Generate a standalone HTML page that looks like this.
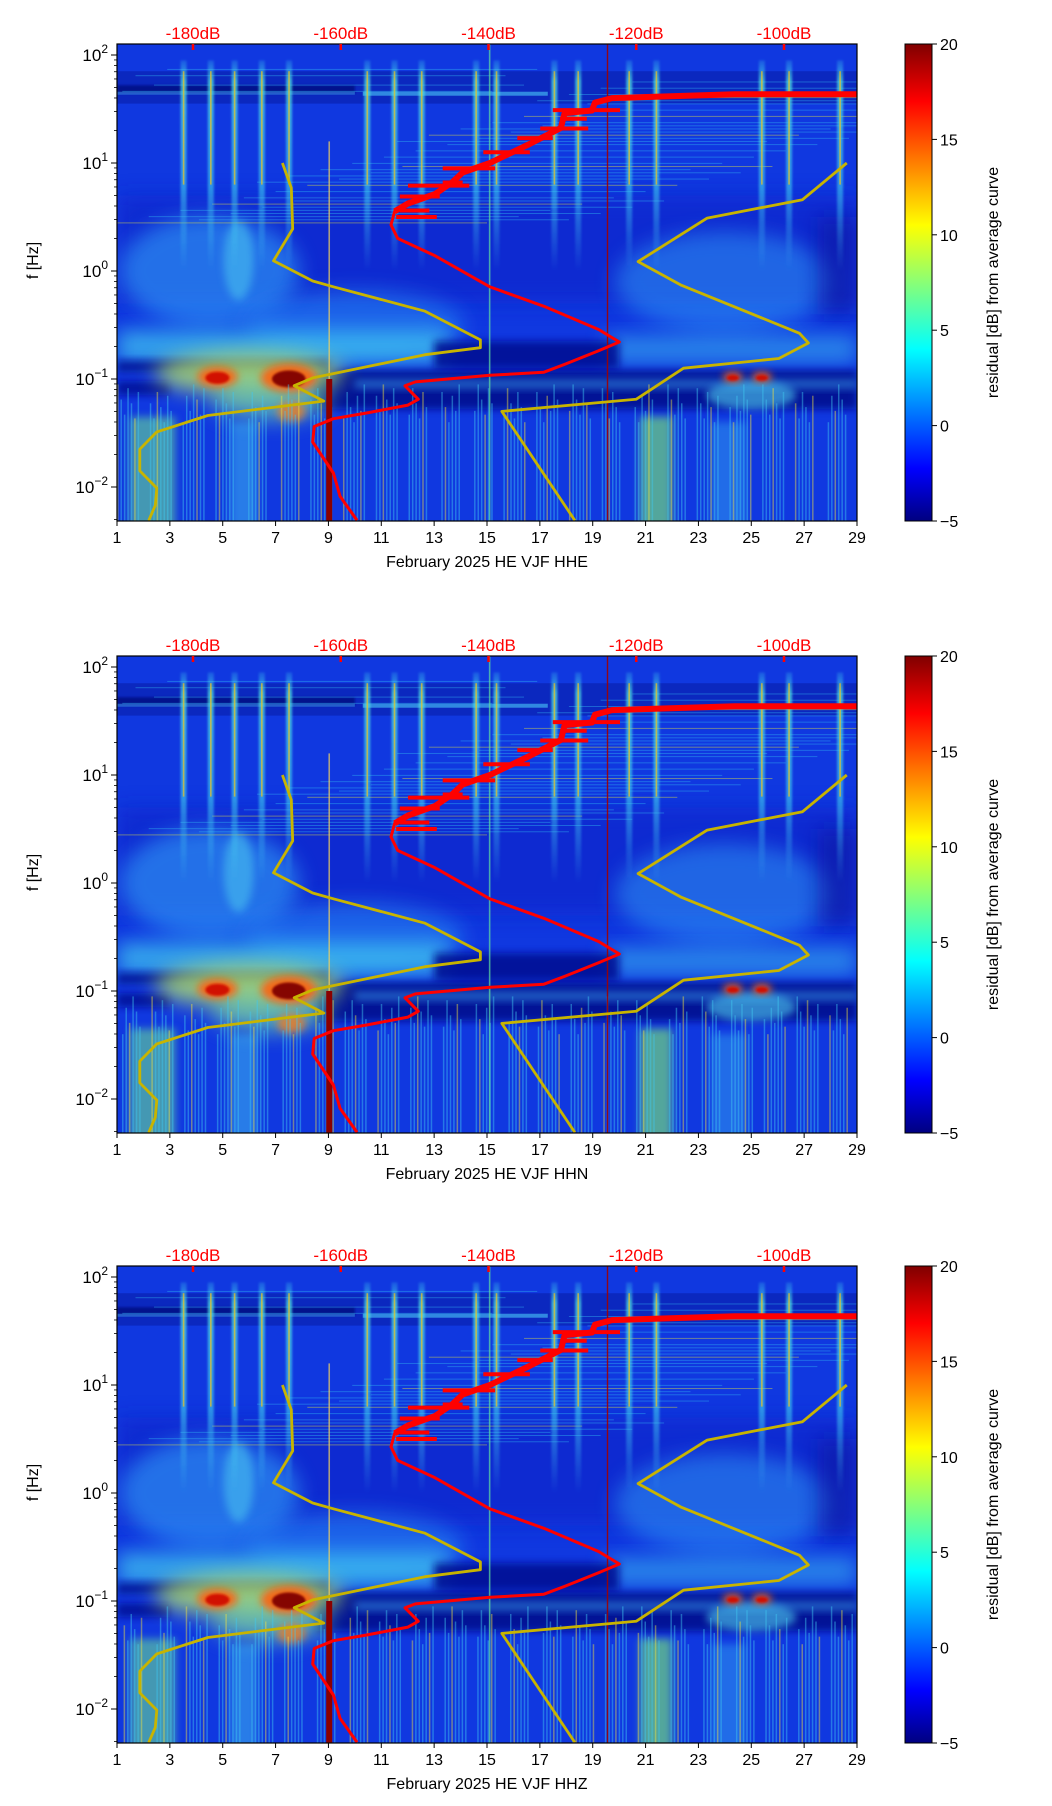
<!DOCTYPE html>
<html><head><meta charset="utf-8"><style>
body{margin:0;background:#fff;}
svg{display:block;font-family:"Liberation Sans","DejaVu Sans",sans-serif;}
</style></head><body>
<svg id="root" width="1052" height="1806" viewBox="0 0 1052 1806" xmlns="http://www.w3.org/2000/svg">
<defs>
<linearGradient id="jet" x1="0" y1="1" x2="0" y2="0">
<stop offset="0" stop-color="#000080"/><stop offset="0.11" stop-color="#0000ff"/>
<stop offset="0.36" stop-color="#00ffff"/><stop offset="0.62" stop-color="#ffff00"/>
<stop offset="0.88" stop-color="#ff0000"/><stop offset="1" stop-color="#800000"/>
</linearGradient>
<linearGradient id="streakG" x1="0" y1="0" x2="0" y2="1">
<stop offset="0" stop-color="#40d8f0" stop-opacity="0.2"/><stop offset="0.1" stop-color="#50e0e0" stop-opacity="0.75"/>
<stop offset="0.6" stop-color="#40d0f0" stop-opacity="0.6"/><stop offset="1" stop-color="#40c0f0" stop-opacity="0"/>
</linearGradient>
<filter id="b1" x="-50%" y="-50%" width="200%" height="200%"><feGaussianBlur stdDeviation="1"/></filter>
<filter id="b4" x="-50%" y="-50%" width="200%" height="200%"><feGaussianBlur stdDeviation="4"/></filter>
<filter id="b10" x="-50%" y="-50%" width="200%" height="200%"><feGaussianBlur stdDeviation="10"/></filter>
</defs>
</svg>
<script>
// ---- data ----
const dayTicks = [1,3,5,7,9,11,13,15,17,19,21,23,25,27,29];
const dbTicks = [-180,-160,-140,-120,-100];
const freqExp = [2,1,0,-1,-2];
const cbTicks = [20,15,10,5,0,-5];
const panelTitles = ["February 2025 HE VJF  HHE","February 2025 HE VJF  HHN","February 2025 HE VJF  HHZ"];
// low noise model (dB, log10 f)
const lowDb = [-167.9,-166.7,-166.5,-169.1,-163.8,-161,-148.6,-141.1,-141.1,-148.6,-163.8,-166.3,-162.3,-178,-184.9,-187.2,-187.2,-184.9,-185.1,-186];
const lowLf = [1.0,0.77,0.39,0.094,-0.093,-0.146,-0.372,-0.638,-0.71,-0.775,-0.99,-1.062,-1.205,-1.338,-1.49,-1.65,-1.85,-2.01,-2.17,-2.31];
// high noise model
const highDb = [-91.5,-97.5,-110.4,-119.75,-114,-97.9,-96.7,-100.7,-113.6,-120,-138.2,-128.3];
const highLf = [1.0,0.66,0.49,0.087,-0.129,-0.577,-0.667,-0.81,-0.9,-1.187,-1.3,-2.31];
// average PSD curve
const avgDb = [-90.1,-106.7,-123.3,-125.6,-126.0,-129.7,-130.2,-134.3,-139.8,-143.5,-144.9,-147.2,-150.9,-152.7,-153.2,-152.3,-147.2,-139.8,-132.5,-125.1,-122.3,-125.1,-129.7,-132.5,-139.8,-149.9,-151.3,-149.5,-150.9,-156.4,-161.0,-163.6,-163.8,-162.4,-161.0,-160.1,-157.8];
const avgLf = [1.637,1.637,1.601,1.558,1.486,1.461,1.325,1.181,1.001,0.912,0.822,0.714,0.625,0.553,0.427,0.302,0.140,-0.147,-0.327,-0.542,-0.657,-0.739,-0.865,-0.937,-0.966,-1.027,-1.063,-1.188,-1.242,-1.314,-1.368,-1.440,-1.583,-1.727,-1.870,-2.085,-2.308];
// horizontal excursions of the average curve (start dB, end dB, log10 f)
const spikeFrom = [-131.3,-130.3,-133,-136.1,-140.7,-146.2,-146.2,-150.9,-152,-152,-152.5];
const spikeTo = [-122.2,-126.7,-126.5,-131.3,-134.4,-139.1,-143.5,-142.6,-146.6,-148,-147];
const spikeLf = [1.49,1.41,1.32,1.23,1.10,0.95,0.82,0.79,0.69,0.56,0.50];
// spectrogram features
const streakDays = [3.52,4.55,5.45,6.48,7.51,10.47,11.5,12.53,14.59,15.36,17.55,18.45,20.38,21.41,25.4,26.43,28.36];
const hotDays = [4.8,7.5,24.3,25.4];
const hotLf = [-0.98,-0.99,-0.98,-0.98];
const hotSize = [1.0,1.4,0.5,0.5];

// ---- layout ----
const NS="http://www.w3.org/2000/svg";
const root=document.getElementById('root');
const L=117,R=857,PH=477;
const tops=[44,656,1266];
function X(d){return L+(d-1)*(R-L)/28;}
function XD(db){return 193+(db+180)*7.3875;}
function mk(tag,attrs,parent){const e=document.createElementNS(NS,tag);for(const k in attrs)e.setAttribute(k,attrs[k]);(parent||root).appendChild(e);return e;}

tops.forEach((top,pi)=>{
  const Y=lf=>top+11+(2-lf)*108;
  const g=mk('g',{});
  
  
  const cid='clip'+pi;
  const cp=mk('clipPath',{id:cid},g);mk('rect',{x:L,y:top,width:R-L,height:PH},cp);
  const sp=mk('g',{'clip-path':'url(#'+cid+')'},g);
  
  
  mk('rect',{x:L,y:top,width:R-L,height:PH,fill:'#1038e0'},sp);
  mk('rect',{x:L,y:Y(1.85),width:R-L,height:Y(1.55)-Y(1.85),fill:'#0a22b0',opacity:0.7},sp);
  mk('rect',{x:L,y:Y(1.72),width:X(10)-L,height:8,fill:'#040c80',opacity:0.8,filter:'url(#b1)'},sp);
  mk('rect',{x:X(10.3),y:Y(1.66),width:X(17.3)-X(10.3),height:4,fill:'#40b0f0',opacity:0.7},sp);
  mk('rect',{x:L,y:Y(1.66),width:X(10)-L,height:3,fill:'#40a0f0',opacity:0.5},sp);
  mk('rect',{x:X(23),y:Y(1.64),width:R-X(23),height:3,fill:'#40b0f0',opacity:0.6},sp);
  mk('rect',{x:L,y:Y(0.7),width:R-L,height:Y(-0.3)-Y(0.7),fill:'#0a24c8',opacity:0.6,filter:'url(#b10)'},sp);
  mk('ellipse',{cx:X(4.5),cy:Y(0.0),rx:90,ry:55,fill:'#30a0f8',opacity:0.6,filter:'url(#b10)'},sp);
  mk('ellipse',{cx:X(5.6),cy:Y(0.1),rx:15,ry:40,fill:'#50d0f0',opacity:0.5,filter:'url(#b4)'},sp);
  mk('ellipse',{cx:X(24),cy:Y(-0.1),rx:110,ry:50,fill:'#30a0f8',opacity:0.5,filter:'url(#b10)'},sp);
  mk('ellipse',{cx:X(10),cy:Y(-0.5),rx:110,ry:35,fill:'#2c90f4',opacity:0.5,filter:'url(#b10)'},sp);
  mk('rect',{x:X(27.5),y:Y(0.5),width:R-X(27.5),height:Y(-0.4)-Y(0.5),fill:'#0818a0',opacity:0.6,filter:'url(#b10)'},sp);
  mk('rect',{x:L,y:Y(-0.55),width:X(13.5)-L,height:Y(-0.85)-Y(-0.55),fill:'#40c8f0',opacity:0.75,filter:'url(#b10)'},sp);
  mk('rect',{x:X(19.5),y:Y(-0.6),width:R-X(19.5),height:Y(-0.85)-Y(-0.6),fill:'#3ab8f0',opacity:0.6,filter:'url(#b10)'},sp);
  mk('rect',{x:X(13),y:Y(-0.65),width:X(20)-X(13),height:Y(-0.9)-Y(-0.65),fill:'#000c90',opacity:0.85,filter:'url(#b4)'},sp);
  mk('rect',{x:X(8.5),y:Y(-0.92),width:R-X(8.5),height:Y(-1.28)-Y(-0.92),fill:'#00088a',opacity:0.85,filter:'url(#b4)'},sp);
  mk('rect',{x:X(10),y:Y(-1.0),width:R-X(10),height:10,fill:'#3aa0f0',opacity:0.5,filter:'url(#b4)'},sp);
  mk('ellipse',{cx:X(25),cy:Y(-1.15),rx:45,ry:14,fill:'#50d0f0',opacity:0.6,filter:'url(#b4)'},sp);
  mk('rect',{x:L,y:Y(-0.83),width:X(9)-L,height:12,fill:'#000c90',opacity:0.8,filter:'url(#b4)'},sp);
  mk('rect',{x:L,y:Y(-1.02),width:X(3)-L,height:14,fill:'#000c90',opacity:0.8,filter:'url(#b4)'},sp);
  mk('ellipse',{cx:X(6),cy:Y(-0.95),rx:95,ry:22,fill:'#c0f060',opacity:0.75,filter:'url(#b10)'},sp);
  mk('ellipse',{cx:X(6.8),cy:Y(-1.2),rx:60,ry:20,fill:'#80e8a0',opacity:0.6,filter:'url(#b10)'},sp);
  mk('ellipse',{cx:X(7.6),cy:Y(-1.3),rx:14,ry:10,fill:'#f08020',opacity:0.8,filter:'url(#b4)'},sp);
  hotDays.forEach((d,i)=>{
    const s=hotSize[i];
    const e1=mk('ellipse',{cx:X(d),cy:Y(hotLf[i]),rx:20*s,ry:10*s,fill:'#ff6010',opacity:0.9,filter:'url(#b4)'},sp);
    
    
    mk('ellipse',{cx:X(d),cy:Y(hotLf[i])+1,rx:12*s,ry:6*s,fill:s>1?'#800000':'#d01000',opacity:0.95,filter:'url(#b1)'},sp);
  });
  mk('rect',{x:X(1.5),y:Y(-1.35),width:X(3.2)-X(1.5),height:Y(-2.4)-Y(-1.35),fill:'#70e890',opacity:0.55,filter:'url(#b4)'},sp);
  mk('rect',{x:X(5.3),y:Y(-1.4),width:X(6.3)-X(5.3),height:Y(-2.4)-Y(-1.4),fill:'#40c0f0',opacity:0.5,filter:'url(#b4)'},sp);
  mk('rect',{x:X(20.8),y:Y(-1.35),width:X(22)-X(20.8),height:Y(-2.4)-Y(-1.35),fill:'#80f070',opacity:0.6,filter:'url(#b4)'},sp);
  mk('rect',{x:X(23.5),y:Y(-1.4),width:X(24.8)-X(23.5),height:Y(-2.4)-Y(-1.4),fill:'#30a0f0',opacity:0.5,filter:'url(#b4)'},sp);
  for(let k=0;k<150;k++){
    const d=1+((k*7.31+pi*1.3)%28);
    const h=((k*37)%11)/10;
    mk('rect',{x:X(d),y:Y(-1.05-h*0.35),width:1.5,height:Y(-2.4)-Y(-1.05-h*0.35),fill:(k%5==0)?'#f0e040':'#40c8f0',opacity:0.45},sp);
  }
  // horizontal texture top
  for(let k=0;k<40;k++){
    const lf=0.45+((k*0.377)%1.45);
    const x0=X(1+((k*5.3)%20));
    mk('rect',{x:x0,y:Y(lf),width:(R-L)*0.5,height:1,fill:(k%6==0)?'#e0e040':'#30b0f0',opacity:0.45},sp);
  }
  streakDays.forEach(d=>{
    const s=mk('rect',{x:X(d)-3,y:Y(1.95),width:6,height:Y(0.0)-Y(1.95),fill:'url(#streakG)',filter:'url(#b1)'},sp);
    
    
    mk('rect',{x:X(d)-0.8,y:Y(1.85),width:1.6,height:Y(0.8)-Y(1.85),fill:'#f0c020',opacity:0.7},sp);
  });
  mk('rect',{x:X(9.03)-3,y:Y(-1.0),width:6,height:Y(-2.4)-Y(-1.0),fill:'#8a0000'},sp);
  mk('rect',{x:X(9.03)-0.8,y:Y(1.2),width:1.6,height:Y(-1)-Y(1.2),fill:'#f0d060',opacity:0.7},sp);
  mk('rect',{x:X(15.1)-0.8,y:top,width:1.6,height:PH,fill:'#60e0a0',opacity:0.7},sp);
  mk('rect',{x:X(19.56)-0.7,y:top,width:1.4,height:PH,fill:'#a00000',opacity:0.9},sp);
  const pts=(a,b)=>a.map((v,i)=>XD(v).toFixed(1)+','+Y(b[i]).toFixed(1)).join(' ');
  const lo=mk('polyline',{points:pts(lowDb,lowLf),fill:'none',stroke:'#c8b400',"stroke-width":2.8,"stroke-linejoin":'round'},sp);
  
  
  const hi=mk('polyline',{points:pts(highDb,highLf),fill:'none',stroke:'#c8b400',"stroke-width":2.8,"stroke-linejoin":'round'},sp);
  
  
  const av=mk('polyline',{points:pts(avgDb,avgLf),fill:'none',stroke:'#ff0000',"stroke-width":3,"stroke-linejoin":'round'},sp);
  
  
  // thick upper part of the curve
  const upper=avgDb.map((v,i)=>[v,avgLf[i]]).filter(p=>p[1]>0.45);
  mk('polyline',{points:upper.map(p=>XD(p[0]).toFixed(1)+','+Y(p[1]).toFixed(1)).join(' '),fill:'none',stroke:'#ff0000','stroke-width':6,'stroke-linejoin':'round'},sp);
  spikeLf.forEach((lf,i)=>{
    const s=mk('line',{x1:XD(spikeFrom[i]),x2:XD(spikeTo[i]),y1:Y(lf),y2:Y(lf),stroke:'#ff0000','stroke-width':4},sp);
    
    
  });
  mk('rect',{x:L,y:top,width:R-L,height:PH,fill:'none',stroke:'#000','stroke-width':1.2},g);
  dayTicks.forEach(d=>{
    mk('line',{x1:X(d),x2:X(d),y1:top+PH,y2:top+PH+5,stroke:'#000'},g);
    const t=mk('text',{x:X(d),y:top+PH+22,'font-size':16,'text-anchor':'middle'},g);t.textContent=d;
    
    
  });
  const xt=mk('text',{x:487,y:top+PH+46,'font-size':16,'text-anchor':'middle'},g);xt.textContent=panelTitles[pi];
  
  
  dbTicks.forEach(v=>{
    mk('line',{x1:XD(v),x2:XD(v),y1:top,y2:top+6,stroke:'#ff0000','stroke-width':2.5},g);
    const t=mk('text',{x:XD(v),y:top-5,'font-size':17,'text-anchor':'middle',fill:'#ff0000'},g);t.textContent=v+'dB';
    
    
  });
  freqExp.forEach(e=>{
    mk('line',{x1:L-6,x2:L,y1:Y(e),y2:Y(e),stroke:'#000'},g);
    const t=mk('text',{x:L-9,y:Y(e)+6,'font-size':17,'text-anchor':'end'},g);
    
    
    const a=mk('tspan',{},t);a.textContent='10';
    const b=mk('tspan',{dy:-8,'font-size':12},t);b.textContent=String(e).replace('-','\u2212');
    for(let m=2;m<10;m++){const lf=e+Math.log10(m);if(lf<2.1){mk('line',{x1:L-3,x2:L,y1:Y(lf),y2:Y(lf),stroke:'#000','stroke-width':0.8},g);}}
  });
  mk('line',{x1:L-3,x2:L,y1:Y(-2.301),y2:Y(-2.301),stroke:'#000','stroke-width':0.8},g);
  const yt=mk('text',{x:38,y:top+PH/2-22,'font-size':16,'text-anchor':'middle',transform:'rotate(-90 38 '+(top+PH/2-22)+')'},g);yt.textContent='f [Hz]';
  
  
  const cb=mk('rect',{x:905,y:top,width:27,height:PH,fill:'url(#jet)',stroke:'#000','stroke-width':1},g);
  
  
  cbTicks.forEach(v=>{
    const y=top+(20-v)/25*PH;
    mk('line',{x1:932,x2:937,y1:y,y2:y,stroke:'#000'},g);
    const t=mk('text',{x:940,y:y+6,'font-size':16},g);t.textContent=String(v).replace('-','\u2212');
    
    
  });
  const ct=mk('text',{x:998,y:top+PH/2,'font-size':16,'text-anchor':'middle',transform:'rotate(-90 998 '+(top+PH/2)+')'},g);ct.textContent='residual [dB] from average curve';
  
  
});
</script>
</body></html>
